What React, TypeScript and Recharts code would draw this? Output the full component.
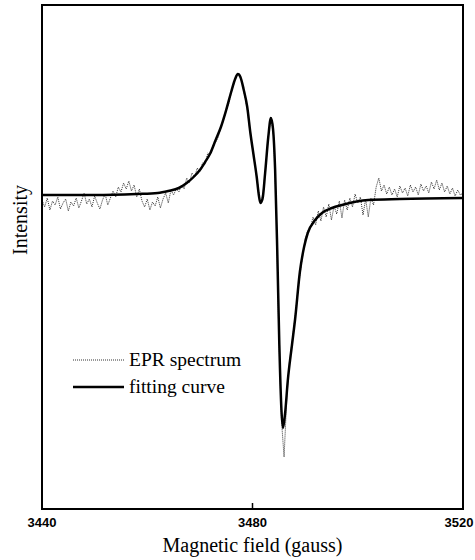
import React from "react";
import { LineChart, Line, XAxis, YAxis, Legend, ReferenceLine } from "recharts";

const fieldTicks = [3440, 3480, 3520];
const fieldRange = [3440, 3520];
const intensityRange = [-314, 190];

// fitted curve: [field (gauss), intensity (arb. units)]
const fittingCurve: [number, number][] = [
  [3440, 0], [3450, 0], [3458, 1], [3462, 2], [3464, 4], [3466, 7], [3467.5, 12],
  [3469, 19], [3470, 25], [3471, 33], [3472, 42], [3473, 55], [3474, 68], [3475, 85],
  [3476, 104], [3476.7, 116], [3477.2, 121], [3477.7, 118], [3478.3, 106], [3479, 88],
  [3479.6, 62], [3480.2, 40], [3480.8, 18], [3481.2, 0], [3481.5, -8], [3481.9, -4],
  [3482.4, 22], [3483, 58], [3483.5, 77], [3483.9, 66], [3484.3, 25], [3484.7, -55],
  [3485.1, -150], [3485.5, -215], [3485.8, -233], [3486.2, -218], [3486.7, -186],
  [3487.5, -150], [3488.1, -124], [3489, -77], [3489.8, -52], [3490.5, -38],
  [3491.9, -25], [3493.2, -18], [3495.1, -13], [3497, -10], [3502, -5], [3508, -4],
  [3520, -3],
];

// measured EPR spectrum (noisy)
const eprSpectrum: [number, number][] = [
  [3440, -5], [3440.5, -12], [3441, -3], [3441.5, -15], [3442, -6], [3442.5, -10], [3443, -2], [3443.5, -14],
  [3444, -8], [3444.5, -4], [3445, -16], [3445.5, -7], [3446, -11], [3446.5, -3], [3447, -13], [3447.5, -6],
  [3448, 2], [3448.5, -9], [3449, -4], [3449.5, -12], [3450, -1], [3450.5, -8], [3451, -14], [3451.5, -5],
  [3452, 1], [3452.5, -10], [3453, -3], [3453.5, 4], [3454, -2], [3454.5, 8], [3455, 3], [3455.5, 12],
  [3456, 6], [3456.5, 14], [3457, 4], [3457.5, 10], [3458, -2], [3458.5, 6], [3459, -6], [3459.5, -12],
  [3460, -4], [3460.5, -15], [3461, -7], [3461.5, -11], [3462, -2], [3462.5, -13], [3463, -4], [3463.5, 2],
  [3464, -8], [3464.5, 5], [3465, 0], [3465.5, 6], [3466, 3], [3466.5, 10], [3467, 6], [3467.5, 17],
  [3468, 12], [3468.5, 22], [3469, 18], [3469.5, 27], [3470, 23], [3470.5, 32], [3471, 31], [3471.5, 42],
  [3472, 40], [3472.5, 50], [3473, 53], [3473.5, 58], [3474, 68], [3474.5, 75], [3475, 85], [3475.5, 92],
  [3476, 103], [3476.5, 112], [3477, 120], [3477.5, 122], [3478, 112], [3478.5, 100], [3479, 86], [3479.5, 64],
  [3480, 48], [3480.5, 30], [3481, 10], [3481.5, -8], [3482, 2], [3482.5, 28], [3483, 58], [3483.5, 78],
  [3484, 60], [3484.5, -10], [3485, -140], [3485.5, -225], [3486, -262], [3486.5, -205], [3487, -168], [3487.5, -148],
  [3488, -126], [3488.5, -102], [3489, -80], [3489.5, -62], [3490, -44], [3490.5, -36], [3491, -33], [3491.5, -22],
  [3492, -30], [3492.5, -16], [3493, -26], [3493.5, -12], [3494, -22], [3494.5, -9], [3495, -25], [3495.5, -11],
  [3496, -19], [3496.5, -6], [3497, -23], [3497.5, -5], [3498, -15], [3498.5, -3], [3499, -12], [3499.5, 1],
  [3500, -8], [3500.5, -2], [3501, -20], [3501.5, -4], [3502, -22], [3502.5, -3], [3503, -10], [3503.5, 8],
  [3504, 17], [3504.5, 4], [3505, 10], [3505.5, 1], [3506, 8], [3506.5, 0], [3507, 6], [3507.5, -2],
  [3508, 9], [3508.5, 2], [3509, 7], [3509.5, -1], [3510, 10], [3510.5, 3], [3511, 8], [3511.5, 0],
  [3512, 11], [3512.5, 4], [3513, 9], [3513.5, 2], [3514, 13], [3514.5, 6], [3515, 15], [3515.5, 5],
  [3516, 12], [3516.5, 3], [3517, 9], [3517.5, 1], [3518, 7], [3518.5, -1], [3519, 5], [3519.5, 0],
  [3520, 2],
];

const toRows = (pts: [number, number][]) => pts.map(([field, value]) => ({ field, value }));

const SERIF = "'Liberation Serif', 'Times New Roman', serif";
const SANS = "'Liberation Sans', Arial, sans-serif";
const frame = { stroke: "#000", strokeWidth: 2 };

const legendStyles: Record<string, { dash?: string; width: number; color: string }> = {
  "EPR spectrum": { dash: "1 1", width: 1, color: "#333" },
  "fitting curve": { width: 2.5, color: "#000" },
};

const FieldTick = (props: any) => {
  const { x, y, payload } = props;
  const inner = payload.value !== 3440 && payload.value !== 3520;
  return (
    <g>
      {inner && <line x1={x} x2={x} y1={y} y2={y - 6} stroke="#000" strokeWidth={1.5} />}
      <text x={x} y={y + 18} textAnchor="middle" fontFamily={SANS} fontWeight="bold" fontSize={13} fill="#000">
        {payload.value}
      </text>
    </g>
  );
};

const FieldLabel = (props: any) => {
  const vb = props.viewBox || { x: 42, width: 421 };
  return (
    <text x={vb.x + vb.width / 2} y={552} textAnchor="middle" fontFamily={SERIF} fontSize={20} fill="#000">
      Magnetic field (gauss)
    </text>
  );
};

const IntensityLabel = () => (
  <text x={27} y={220} transform="rotate(-90 27 220)" textAnchor="middle" fontFamily={SERIF} fontSize={20} fill="#000">
    Intensity
  </text>
);

const SpectrumLegend = (props: any) => {
  const items = props.payload || [];
  return (
    <div>
      {items.map((item: any) => {
        const s = legendStyles[item.value] || { width: 1, color: "#000" };
        return (
          <div key={item.value} style={{ display: "flex", alignItems: "center", height: 27 }}>
            <svg width={51} height={6}>
              <line x1={0} x2={51} y1={3} y2={3} stroke={s.color} strokeWidth={s.width} strokeDasharray={s.dash} />
            </svg>
            <span style={{ marginLeft: 5, fontFamily: SERIF, fontSize: 19.5, color: "#000", lineHeight: "20px" }}>
              {item.value}
            </span>
          </div>
        );
      })}
    </div>
  );
};

export default function App() {
  return (
    <div style={{ position: "absolute", left: 0, top: 0, width: 475, height: 560, background: "#fff" }}>
      <LineChart width={475} height={560} margin={{ top: 5, right: 12, bottom: 0, left: 0 }}>
        <XAxis
          dataKey="field"
          type="number"
          domain={fieldRange}
          ticks={fieldTicks}
          allowDataOverflow
          height={51}
          axisLine={frame}
          tickLine={false}
          tickSize={0}
          tickMargin={0}
          tick={<FieldTick />}
          label={<FieldLabel />}
        />
        <YAxis
          dataKey="value"
          type="number"
          domain={intensityRange}
          allowDataOverflow
          width={42}
          axisLine={frame}
          tickLine={false}
          tick={false}
          label={<IntensityLabel />}
        />
        <ReferenceLine y={intensityRange[1]} stroke="#000" strokeWidth={2} ifOverflow="visible" />
        <ReferenceLine x={fieldRange[1]} stroke="#000" strokeWidth={2} ifOverflow="visible" />
        <Legend
          layout="vertical"
          align="center"
          verticalAlign="middle"
          content={<SpectrumLegend />}
          wrapperStyle={{ left: 73, top: 346, width: "auto", height: "auto" }}
        />
        <Line
          data={toRows(eprSpectrum)}
          dataKey="value"
          name="EPR spectrum"
          type="linear"
          stroke="#333"
          strokeWidth={1}
          strokeDasharray="1 1"
          dot={false}
          isAnimationActive={false}
        />
        <Line
          data={toRows(fittingCurve)}
          dataKey="value"
          name="fitting curve"
          type="monotone"
          stroke="#000"
          strokeWidth={2.5}
          dot={false}
          isAnimationActive={false}
        />
      </LineChart>
      {/* plot frame */}
      <div
        style={{
          position: "absolute",
          left: 41,
          top: 4,
          width: 423,
          height: 506,
          border: "2px solid #000",
          boxSizing: "border-box",
          pointerEvents: "none",
        }}
      />
    </div>
  );
}
